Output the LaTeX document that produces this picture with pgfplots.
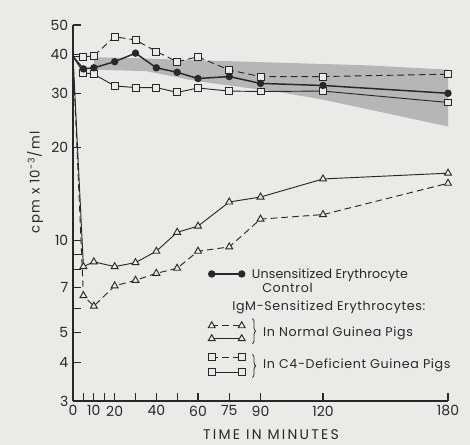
\documentclass[border=0pt]{standalone}
\usepackage{pgfplots}
\pgfplotsset{compat=1.18}
\usepackage{fontspec}
\setmainfont{Poppins}
\usetikzlibrary{decorations.pathreplacing}

\definecolor{ink}{RGB}{40,40,40}
\definecolor{paper}{RGB}{234,234,232}
\definecolor{band}{RGB}{182,182,182}

\tikzset{
  ctrl/.style={color=ink, line width=1.1pt, mark=*, mark size=2.2pt,
    mark options={solid, fill=ink}},
  trid/.style={color=ink, line width=0.7pt, dash pattern=on 5pt off 3pt,
    mark=triangle*, mark size=3pt, mark options={solid, fill=paper}},
  tris/.style={color=ink, line width=0.7pt,
    mark=triangle*, mark size=3pt, mark options={solid, fill=paper}},
  sqd/.style={color=ink, line width=0.7pt, dash pattern=on 5pt off 3pt,
    mark=square*, mark size=2.6pt, mark options={solid, fill=paper}},
  sqs/.style={color=ink, line width=0.7pt,
    mark=square*, mark size=2.6pt, mark options={solid, fill=paper}},
  brc/.style={overlay, ink, line width=0.6pt, decorate,
    decoration={brace, amplitude=2.5pt}},
}
% every legend row is flat; the rows are placed by these offsets
\newcommand\lgtext[2]{\raisebox{#1}[0pt][0pt]{#2}}
\newcommand\lgcol{\path[draw=none, fill=none] (-2.6pt,0pt) -- (25.1pt,0pt);}

\begin{document}
\begin{tikzpicture}
\fill[paper] (-54.75pt,-33pt) rectangle (297.75pt,300.75pt);
\path[use as bounding box] (-54.75pt,-33pt) rectangle (297.75pt,300.75pt);
\begin{axis}[
  at={(0,0)}, anchor=south west,
  scale only axis, width=281.25pt, height=282pt,
  axis lines=left,
  axis line style={-, ink, line width=0.9pt},
  xmin=0, xmax=180,
  ymode=log, ymin=3, ymax=50,
  xtick={0,5,10,15,20,30,40,50,60,75,90,120,180},
  xticklabels={0,,10,,20,,40,,60,75,90,120,180},
  ytick={3,4,5,6,7,8,9,10,20,30,40,50},
  yticklabels={3,4,5,,7,,,10,20,30,40,50},
  minor tick num=0,
  tick align=inside,
  major tick length=6pt,
  tick style={ink, line width=0.8pt},
  ticklabel style={font=\fontsize{10.5}{12}\selectfont, text=ink},
  /pgf/number format/assume math mode=true,
  clip=false,
  xlabel={TIME IN MINUTES},
  xlabel style={at={([yshift=-25.5pt]axis description cs:0.528,0)}, anchor=center,
    font=\fontsize{10.5}{12}\selectfont\addfontfeature{LetterSpace=16}, text=ink},
  legend style={at={(rel axis cs:0.36,0.3412)}, anchor=north west,
    draw=none, fill=none, inner sep=0pt, row sep=0pt, column sep=5pt,
    nodes={inner sep=0pt},
    font=\fontsize{9.5}{11}\selectfont\addfontfeature{LetterSpace=5}, text=ink,
    cells={anchor=west}},
  legend cell align=left,
]

% normal range band
\addplot[fill=band, draw=none, forget plot] coordinates {
  (10,39.3) (30,39) (60,38.4) (100,37.7) (140,37) (180,35.8)
  (180,23.4) (120,28.6) (100,30.2) (60,32.8) (35,35.4) (10,35.8)
} -- cycle;

% C4-deficient, dashed
\addplot[sqd, mark indices={2,...,12}, forget plot] coordinates {
  (0,39.5) (5,39.4) (10,39.7) (20,45.8) (30,44.7) (40,41) (50,38)
  (60,39.4) (75,35.7) (90,34) (120,34) (180,34.6)
};
% C4-deficient, solid
\addplot[sqs, mark indices={2,...,12}, forget plot] coordinates {
  (0,39.5) (5,35) (10,34.6) (20,31.7) (30,31.3) (40,31.3) (50,30.2)
  (60,31.2) (75,30.5) (90,30.4) (120,30.5) (180,28)
};
% unsensitized control
\addplot[ctrl, mark indices={2,...,12}, forget plot] coordinates {
  (0,39.5) (5,36) (10,36.3) (20,38) (30,40.5) (40,36.3) (50,35.1)
  (60,33.5) (75,34) (90,32.3) (120,31.8) (180,30)
};
% normal guinea pigs, dashed
\addplot[trid, mark indices={2,...,12}, forget plot] coordinates {
  (0,39.5) (5,6.6) (10,6.1) (20,7.1) (30,7.4) (40,7.8) (50,8.1)
  (60,9.2) (75,9.5) (90,11.7) (120,12.1) (180,15.3)
};
% normal guinea pigs, solid
\addplot[tris, mark indices={2,...,12}, forget plot] coordinates {
  (0,39.5) (5,8.2) (10,8.5) (20,8.2) (30,8.45) (40,9.2) (50,10.6)
  (60,11.1) (75,13.3) (90,13.8) (120,15.8) (180,16.5)
};

% legend
\addlegendimage{legend image code/.code={\lgcol
  \draw[ctrl, overlay] plot coordinates {(0pt,0pt) (22.5pt,0pt)};}}
\addlegendentry{\lgtext{-3.8pt}{\addfontfeature{LetterSpace=1}Unsensitized Erythrocyte}}
\addlegendimage{legend image code/.code={\lgcol}}
\addlegendentry{\lgtext{-12.85pt}{\hspace{7.8pt}Control}}
\addlegendimage{legend image code/.code={\lgcol}}
\addlegendentry{\lgtext{-25.5pt}{\hspace{-14.7pt}IgM-Sensitized Erythrocytes:}}
\addlegendimage{legend image code/.code={\lgcol
  \draw[trid, overlay] plot coordinates {(0pt,-34.35pt) (22.5pt,-34.35pt)};
  \draw[tris, overlay] plot coordinates {(0pt,-44.05pt) (22.5pt,-44.05pt)};
  \draw[brc] (30.5pt,-29.05pt) -- (30.5pt,-47.75pt);}}
\addlegendentry{\lgtext{-43.05pt}{\hspace{8.5pt}In Normal Guinea Pigs}}
\addlegendimage{legend image code/.code={\lgcol
  \draw[sqd, overlay] plot coordinates {(0pt,-56.4pt) (22.5pt,-56.4pt)};
  \draw[sqs, overlay] plot coordinates {(0pt,-67.6pt) (22.5pt,-67.6pt)};
  \draw[brc] (30.5pt,-54.4pt) -- (30.5pt,-71.6pt);}}
\addlegendentry{\lgtext{-65.7pt}{\hspace{8.5pt}In C4-Deficient Guinea Pigs}}

\end{axis}
\node[rotate=90, anchor=center, text=ink,
  font=\fontsize{10}{12}\selectfont\addfontfeature{LetterSpace=10}]
  at (-28.5pt,164pt) {cpm x 10\textsuperscript{-3}/ml};
\end{tikzpicture}
\end{document}
